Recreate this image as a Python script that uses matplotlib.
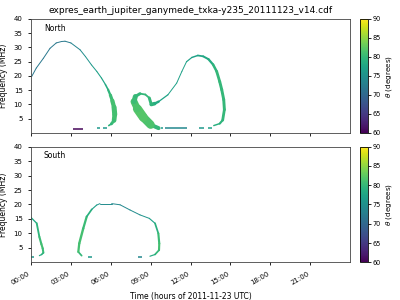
import matplotlib
matplotlib.use("Agg")
import matplotlib.pyplot as plt
import numpy as np
from matplotlib.collections import LineCollection
from matplotlib.colors import Normalize

TITLE = "expres_earth_jupiter_ganymede_txka-y235_20111123_v14.cdf"
TICK_HOURS = [0, 3, 6, 9, 12, 15, 18, 21]
TICK_LABELS = ["00:00", "03:00", "06:00", "09:00", "12:00", "15:00", "18:00", "21:00"]
FREQ_TICKS = [5, 10, 15, 20, 25, 30, 35, 40]
THETA_TICKS = [60, 65, 70, 75, 80, 85, 90]

# North: left arch (time in hours, frequency in MHz, theta in deg, time spread in hours)
north_a_t = [0.05, 0.4, 0.93, 1.43, 1.9, 2.3, 2.56, 3.0, 3.69, 4.1, 4.55, 4.95, 5.3, 5.6, 5.8, 5.97, 6.12, 6.25, 6.3, 6.25, 6.05, 5.85]
north_a_f = [19.8, 22.8, 26.2, 29.7, 31.6, 32.1, 32.2, 31.6, 29.2, 26.8, 23.9, 21.6, 19.3, 17.0, 15.2, 13.3, 11.3, 9.0, 6.5, 4.4, 3.2, 2.6]
north_a_th = [72, 72, 72, 72, 72, 72, 72, 73, 74, 75, 76, 77, 77, 78, 79, 80, 81, 81, 81, 81, 80, 79]
north_a_w = [0.06, 0.06, 0.06, 0.06, 0.06, 0.06, 0.06, 0.06, 0.06, 0.06, 0.07, 0.08, 0.08, 0.1, 0.14, 0.2, 0.28, 0.36, 0.4, 0.3, 0.15, 0.1]

# North: middle spiral and right arch
north_b_t = [9.6, 9.0, 8.45, 8.0, 7.75, 7.85, 8.2, 8.6, 8.9, 9.05, 9.3, 9.6, 10.3, 10.96, 11.35, 11.7, 12.1, 12.55, 12.95, 13.35, 13.7, 13.97, 14.2, 14.35, 14.5, 14.55, 14.42, 14.2, 13.75]
north_b_f = [1.7, 2.9, 5.5, 8.5, 11.0, 12.8, 13.8, 13.5, 12.3, 10.0, 10.3, 11.0, 13.4, 17.5, 21.6, 25.0, 26.5, 27.2, 26.9, 25.9, 24.0, 21.6, 18.0, 15.2, 11.7, 8.2, 4.5, 3.3, 2.6]
north_b_th = [79, 81, 82, 82, 81, 80, 80, 80, 80, 80, 79, 78, 77, 77, 77, 77, 77, 77, 78, 78, 79, 80, 80, 80, 80, 80, 80, 79, 79]
north_b_w = [0.1, 0.5, 0.75, 0.6, 0.45, 0.3, 0.15, 0.12, 0.15, 0.3, 0.25, 0.12, 0.07, 0.06, 0.06, 0.08, 0.1, 0.12, 0.14, 0.16, 0.18, 0.2, 0.22, 0.22, 0.22, 0.22, 0.2, 0.12, 0.1]

# North: short segments near the lower frequency limit
north_dash_t0 = [3.14, 5.0, 5.44, 9.75, 10.08, 12.66, 13.3]
north_dash_t1 = [3.93, 5.2, 5.74, 9.95, 11.71, 13.0, 13.6]
north_dash_f = [1.5, 1.6, 1.7, 1.6, 1.6, 1.6, 1.7]
north_dash_th = [60.5, 76, 76, 76, 74, 76, 77]

# South: left branch
south_a_t = [0.02, 0.43, 0.63, 0.78, 0.88, 0.93, 0.8, 0.63]
south_a_f = [15.4, 13.5, 8.8, 6.3, 4.8, 3.3, 2.7, 2.3]
south_a_th = [77, 79, 80, 81, 81, 80, 79, 78]
south_a_w = [0.08, 0.12, 0.16, 0.16, 0.16, 0.15, 0.1, 0.08]

# South: arch
south_b_t = [3.81, 3.56, 3.63, 3.93, 4.19, 4.57, 4.94, 5.19, 6.07, 6.7, 7.45, 8.2, 8.9, 9.33, 9.58, 9.65, 9.63, 9.33, 8.95]
south_b_f = [2.3, 3.6, 6.5, 11.7, 15.8, 18.3, 19.8, 20.3, 20.3, 19.9, 18.1, 16.4, 15.2, 13.5, 10.0, 6.5, 4.2, 2.7, 2.1]
south_b_th = [79, 81, 81, 81, 80, 78, 76, 75, 74, 74, 74, 75, 76, 78, 80, 81, 81, 79, 78]
south_b_w = [0.1, 0.16, 0.18, 0.18, 0.16, 0.1, 0.07, 0.06, 0.06, 0.06, 0.06, 0.06, 0.07, 0.1, 0.16, 0.16, 0.16, 0.1, 0.08]

south_dash_t0 = [0.02, 4.31, 8.03]
south_dash_t1 = [0.25, 4.56, 8.33]
south_dash_f = [1.7, 1.7, 1.7]
south_dash_th = [76, 76, 74]

CMAP = "viridis"
NORM = Normalize(vmin=60, vmax=90)
PT_PER_HOUR = 319 / 24 * 0.72


def draw_branch(ax, t, f, th, w):
    pts = np.column_stack([t, f])
    segs = np.stack([pts[:-1], pts[1:]], axis=1)
    th = np.asarray(th, dtype=float)
    w = np.asarray(w, dtype=float)
    lc = LineCollection(segs, cmap=CMAP, norm=NORM, capstyle="round", joinstyle="round")
    lc.set_array((th[:-1] + th[1:]) / 2)
    lc.set_linewidth(np.maximum((w[:-1] + w[1:]) / 2 * PT_PER_HOUR, 0.7))
    ax.add_collection(lc)
    return lc


def draw_dashes(ax, t0, t1, f, th):
    segs = [[(a, y), (b, y)] for a, b, y in zip(t0, t1, f)]
    lc = LineCollection(segs, cmap=CMAP, norm=NORM, linewidths=1.1, capstyle="butt")
    lc.set_array(np.asarray(th, dtype=float))
    ax.add_collection(lc)
    return lc


plt.rcParams["font.size"] = 5
fig = plt.figure(figsize=(4, 3), dpi=100)
ax_n = fig.add_axes([0.0775, 0.5567, 0.7975, 0.38])
ax_s = fig.add_axes([0.0775, 0.1257, 0.7975, 0.3853])
cax_n = fig.add_axes([0.9, 0.5567, 0.02, 0.38])
cax_s = fig.add_axes([0.9, 0.1257, 0.02, 0.3853])

draw_branch(ax_n, north_a_t, north_a_f, north_a_th, north_a_w)
draw_branch(ax_n, north_b_t, north_b_f, north_b_th, north_b_w)
draw_dashes(ax_n, north_dash_t0, north_dash_t1, north_dash_f, north_dash_th)

draw_branch(ax_s, south_a_t, south_a_f, south_a_th, south_a_w)
draw_branch(ax_s, south_b_t, south_b_f, south_b_th, south_b_w)
draw_dashes(ax_s, south_dash_t0, south_dash_t1, south_dash_f, south_dash_th)

for ax, name in [(ax_n, "North"), (ax_s, "South")]:
    ax.set_xlim(0, 24)
    ax.set_ylim(0, 40)
    ax.set_yticks(FREQ_TICKS)
    ax.set_xticks(TICK_HOURS)
    ax.set_ylabel("Frequency (MHz)", fontsize=5.5)
    ax.tick_params(labelsize=5, length=2.5, width=0.6)
    ax.text(0.04, 0.92, name, transform=ax.transAxes, fontsize=5.5, va="center")
    for s in ax.spines.values():
        s.set_linewidth(0.6)
        s.set_color("#444444")

ax_n.set_xticklabels([])
ax_s.set_xticklabels(TICK_LABELS, rotation=30, ha="right")
ax_s.set_xlabel("Time (hours of 2011-11-23 UTC)", fontsize=5.5)
ax_n.set_title(TITLE, fontsize=6.5, pad=4)

sm = plt.cm.ScalarMappable(norm=NORM, cmap=CMAP)
for cax in (cax_n, cax_s):
    cb = fig.colorbar(sm, cax=cax, ticks=THETA_TICKS)
    cb.ax.tick_params(labelsize=4.7, length=2, width=0.6, pad=1.5)
    cb.set_label(r"$\theta$ (degrees)", fontsize=5.2, labelpad=2)
    cb.outline.set_linewidth(0.6)

fig.savefig("out.png", dpi=100)
